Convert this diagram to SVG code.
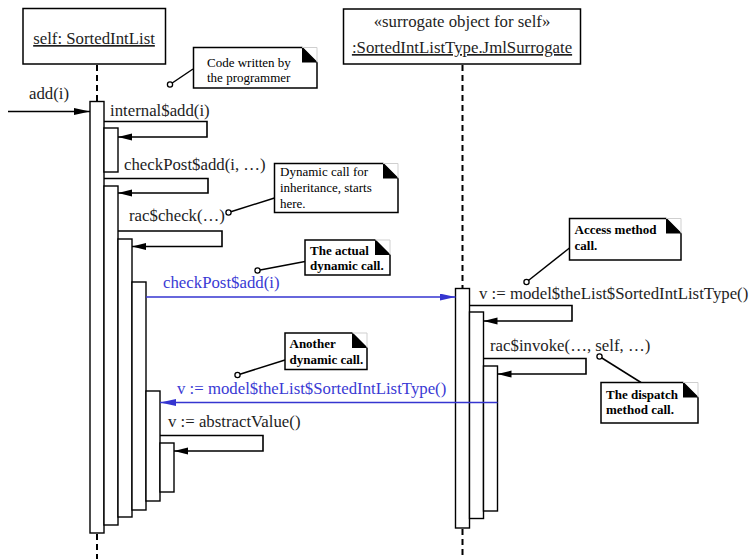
<svg xmlns="http://www.w3.org/2000/svg" width="750" height="559" viewBox="0 0 750 559">
<style>
text{font-family:"Liberation Serif","Times New Roman",serif;fill:#1e1e1e}
.lbl{font-size:16.8px}
.blue{fill:#3a3ad4}
.nt{font-size:13px;fill:#000}
.ntb{font-size:13px;font-weight:bold;fill:#000}
.box{fill:#fff;stroke:#000;stroke-width:1.5}
.bar{fill:#fff;stroke:#000;stroke-width:1.4}
.life{stroke:#000;stroke-width:2;stroke-dasharray:6 4;fill:none}
.msg{fill:none;stroke:#000;stroke-width:1.6}
.bmsg{fill:none;stroke:#3535d0;stroke-width:1.4}
.note{fill:#fff;stroke:#000;stroke-width:1.5}
.fold{fill:#000}
.ghost{fill:none;stroke:#cfcfcf;stroke-width:1}
.anc{stroke:#000;stroke-width:1.5}
.dot{fill:#fff;stroke:#000;stroke-width:1.3}
</style>
<defs>
<marker id="ah" markerUnits="userSpaceOnUse" markerWidth="16" markerHeight="8" refX="14" refY="3.5" orient="auto"><path d="M0,0 L14,3.5 L0,7 Z" fill="#000"/></marker>
<marker id="ahl" markerUnits="userSpaceOnUse" markerWidth="18" markerHeight="8" refX="16" refY="3.5" orient="auto"><path d="M0,0 L16,3.5 L0,7 Z" fill="#000"/></marker>
<marker id="ahb" markerUnits="userSpaceOnUse" markerWidth="18" markerHeight="8" refX="16" refY="3.5" orient="auto"><path d="M0,0 L16,3.5 L0,7 Z" fill="#3535d0"/></marker>
</defs>
<rect width="750" height="559" fill="#fff"/>

<g id="obj-self">
<rect class="box" x="23" y="8.5" width="142.5" height="55.5"/>
<text class="lbl" x="94" y="44" text-anchor="middle" text-decoration="underline">self: SortedIntList</text>
<line class="life" x1="97" y1="65" x2="97" y2="101"/>
<line class="life" x1="97" y1="534" x2="97" y2="559"/>
</g>

<g id="obj-surrogate">
<rect class="box" x="343.5" y="9" width="237" height="55"/>
<text class="lbl" x="462" y="27" text-anchor="middle">«surrogate object for self»</text>
<text class="lbl" x="462" y="53" text-anchor="middle" text-decoration="underline">:SortedIntListType.JmlSurrogate</text>
<line class="life" x1="462.5" y1="65" x2="462.5" y2="288"/>
<line class="life" x1="462.5" y1="529" x2="462.5" y2="559"/>
</g>

<g id="activations-self">
<rect class="bar" x="90" y="101.5" width="14" height="431.5"/>
<rect class="bar" x="104" y="128" width="14" height="44"/>
<rect class="bar" x="104" y="186" width="14" height="339"/>
<rect class="bar" x="118" y="239" width="14" height="278"/>
<rect class="bar" x="132" y="282" width="14" height="228"/>
<rect class="bar" x="146" y="391" width="14" height="110"/>
<rect class="bar" x="160" y="443" width="14" height="49"/>
</g>

<g id="activations-surrogate">
<rect class="bar" x="455.5" y="288.5" width="14" height="239.5"/>
<rect class="bar" x="469.5" y="312" width="14" height="206.5"/>
<rect class="bar" x="483.5" y="366" width="14" height="145"/>
</g>

<g id="connectors">
<path class="msg" d="M8,111.5 H90" marker-end="url(#ahl)"/>
<path class="msg" d="M104,121.5 H207 V137 H118" marker-end="url(#ah)"/>
<path class="msg" d="M104,178.5 H208 V193 H118" marker-end="url(#ah)"/>
<path class="msg" d="M118,231 H222 V246.5 H132" marker-end="url(#ah)"/>
<path class="bmsg" d="M146,297 H455.5" marker-end="url(#ahb)"/>
<path class="msg" d="M469.5,305.5 H572 V321 H483.5" marker-end="url(#ah)"/>
<path class="msg" d="M483.5,358.5 H586 V374 H497.5" marker-end="url(#ah)"/>
<path class="bmsg" d="M497.5,402.5 H160" marker-end="url(#ahb)"/>
<path class="msg" d="M160,435.5 H263 V451 H174" marker-end="url(#ah)"/>
</g>

<g id="labels">
<text class="lbl" x="29" y="99">add(i)</text>
<text class="lbl" x="110" y="116">internal$add(i)</text>
<text class="lbl" x="124" y="170">checkPost$add(i, …)</text>
<text class="lbl" x="129" y="221">rac$check(…)</text>
<text class="lbl blue" x="163" y="288">checkPost$add(i)</text>
<text class="lbl" x="479" y="299">v := model$theList$SortedIntListType()</text>
<text class="lbl" x="490" y="351">rac$invoke(…, self, …)</text>
<text class="lbl blue" x="177" y="394">v := model$theList$SortedIntListType()</text>
<text class="lbl" x="168" y="427">v := abstractValue()</text>
</g>

<g id="note-code">
<line class="anc" x1="170" y1="84.5" x2="193" y2="69"/>
<circle class="dot" cx="170" cy="84.5" r="2.6"/>
<path class="note" d="M193.5,47.5 H302 L317,62.5 V88 H193.5 Z"/>
<path class="ghost" d="M302,47.5 H317 V62.5"/>
<path class="fold" d="M302,47.5 L317,62.5 H302 Z"/>
<text class="nt" x="207" y="66.5">Code written by</text>
<text class="nt" x="207" y="81.5">the programmer</text>
</g>

<g id="note-dynamic-inheritance">
<line class="anc" x1="228.5" y1="212.5" x2="274.5" y2="198"/>
<circle class="dot" cx="228.5" cy="212.5" r="2.6"/>
<path class="note" d="M274.5,163.5 H383 L398,178.5 V212.5 H274.5 Z"/>
<path class="ghost" d="M383,163.5 H398 V178.5"/>
<path class="fold" d="M383,163.5 L398,178.5 H383 Z"/>
<text class="nt" x="280" y="176">Dynamic call for</text>
<text class="nt" x="280" y="192">inheritance, starts</text>
<text class="nt" x="280" y="208">here.</text>
</g>

<g id="note-actual">
<line class="anc" x1="257.5" y1="270.5" x2="305" y2="261.5"/>
<circle class="dot" cx="257.5" cy="270.5" r="2.6"/>
<path class="note" d="M305,240 H375 L390,255 V275 H305 Z"/>
<path class="ghost" d="M375,240 H390 V255"/>
<path class="fold" d="M375,240 L390,255 H375 Z"/>
<text class="ntb" x="310" y="254.5">The actual</text>
<text class="ntb" x="310" y="270">dynamic call.</text>
</g>

<g id="note-another">
<line class="anc" x1="237.5" y1="375" x2="285" y2="360"/>
<circle class="dot" cx="237.5" cy="375" r="2.6"/>
<path class="note" d="M285,333 H352 L367,348 V369.5 H285 Z"/>
<path class="ghost" d="M352,333 H367 V348"/>
<path class="fold" d="M352,333 L367,348 H352 Z"/>
<text class="ntb" x="289.5" y="348">Another</text>
<text class="ntb" x="289.5" y="363.5">dynamic call.</text>
</g>

<g id="note-access">
<line class="anc" x1="526.5" y1="282" x2="569.5" y2="248"/>
<circle class="dot" cx="526.5" cy="282" r="2.6"/>
<path class="note" d="M569.5,218.5 H666 L681,233.5 V260 H569.5 Z"/>
<path class="ghost" d="M666,218.5 H681 V233.5"/>
<path class="fold" d="M666,218.5 L681,233.5 H666 Z"/>
<text class="ntb" x="574.5" y="233.5">Access method</text>
<text class="ntb" x="574.5" y="249.5">call.</text>
</g>

<g id="note-dispatch">
<line class="anc" x1="599.5" y1="356.5" x2="641" y2="382.5"/>
<circle class="dot" cx="599.5" cy="356.5" r="2.6"/>
<path class="note" d="M601,382.5 H683 L698,397.5 V423 H601 Z"/>
<path class="ghost" d="M683,382.5 H698 V397.5"/>
<path class="fold" d="M683,382.5 L698,397.5 H683 Z"/>
<text class="ntb" x="606" y="398.5">The dispatch</text>
<text class="ntb" x="606" y="413.5">method call.</text>
</g>
</svg>
